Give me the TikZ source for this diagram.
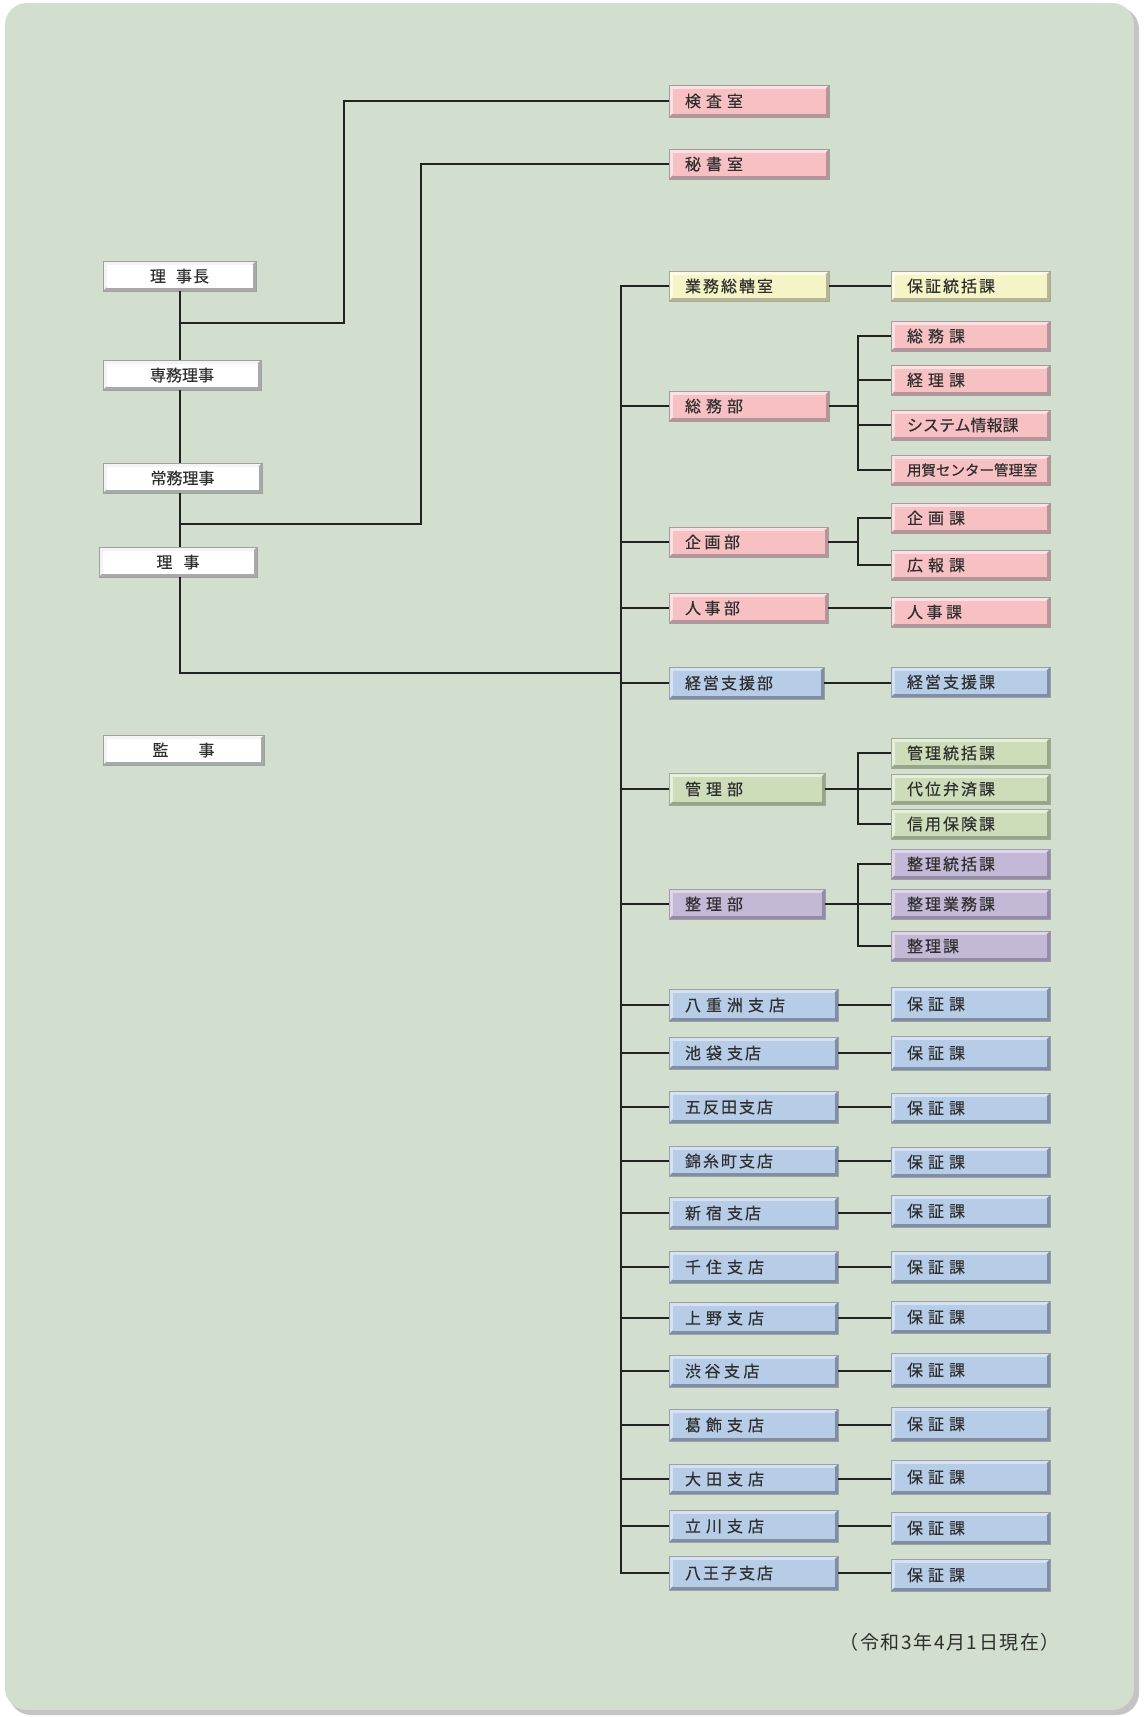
\documentclass[tikz,border=0pt]{standalone}
\usepackage{fontspec}
\newfontfamily\jp[FakeBold=0.3]{Noto Sans CJK JP}
\newfontfamily\jpn{Noto Sans CJK JP}
\usetikzlibrary{calc}
\definecolor{bg}{HTML}{D3DFCE}
\definecolor{shd}{HTML}{C4C4C4}
\definecolor{ln}{HTML}{222222}
\definecolor{txt}{HTML}{2E2E2E}
\definecolor{pkF}{HTML}{F7C1C4}\definecolor{pkL}{HTML}{FCE0E2}\definecolor{pkD}{HTML}{B3959A}\definecolor{pkB}{HTML}{A49C9E}
\definecolor{blF}{HTML}{B7CCE6}\definecolor{blL}{HTML}{D6E2F1}\definecolor{blD}{HTML}{808EA3}\definecolor{blB}{HTML}{98A0AC}
\definecolor{grF}{HTML}{CDDCB9}\definecolor{grL}{HTML}{E6EEDC}\definecolor{grD}{HTML}{97A689}\definecolor{grB}{HTML}{A0A898}
\definecolor{ylF}{HTML}{F4F4C6}\definecolor{ylL}{HTML}{FBFBE6}\definecolor{ylD}{HTML}{B5B596}\definecolor{ylB}{HTML}{A8A898}
\definecolor{puF}{HTML}{C3B8D5}\definecolor{puL}{HTML}{DDD6E8}\definecolor{puD}{HTML}{948BA6}\definecolor{puB}{HTML}{A09AAA}
\definecolor{whF}{HTML}{FFFFFF}\definecolor{whL}{HTML}{F4F4F4}\definecolor{whD}{HTML}{A9A9A9}\definecolor{whB}{HTML}{A0A0A0}
\newcommand\ks{\kern5pt}
\newcommand\km{\kern3.5pt}
\newcommand\kn{\kern2pt}
\tikzset{
  bev/.style n args={4}{draw=#4, line width=0.8pt, fill=#2, text=txt,
    font=\jp\fontsize{16}{16}\selectfont, inner ysep=0pt,
    path picture={
      \fill[#3] (path picture bounding box.south west) -- (path picture bounding box.south east)
        -- (path picture bounding box.north east)
        -- ([xshift=-3.5pt,yshift=-3.5pt]path picture bounding box.north east)
        -- ([xshift=-3.5pt,yshift=3.5pt]path picture bounding box.south east)
        -- ([xshift=3.5pt,yshift=3.5pt]path picture bounding box.south west) -- cycle;
      \fill[#1] ([xshift=3.5pt,yshift=3.5pt]path picture bounding box.south west)
        rectangle ([xshift=-3.5pt,yshift=-3.5pt]path picture bounding box.north east);
    }},
  pinkB/.style={bev={pkF}{pkL}{pkD}{pkB}},
  blueB/.style={bev={blF}{blL}{blD}{blB}},
  greenB/.style={bev={grF}{grL}{grD}{grB}},
  yellowB/.style={bev={ylF}{ylL}{ylD}{ylB}},
  purpleB/.style={bev={puF}{puL}{puD}{puB}},
  whiteB/.style={bev={whF}{whL}{whD}{whB}},
  conn/.style={draw=ln, line width=2.3pt, line join=miter},
  note/.style={text=txt, font=\jpn\fontsize{19}{19}\selectfont, inner sep=0pt}
}
% #1 name, #2 style, #3 x1, #4 y1, #5 x2, #6 y2, #7 text
\newcommand\boxL[7]{%
  \pgfmathsetmacro\myT{#5-#3-32}\pgfmathsetmacro\myH{#6-#4}%
  \pgfmathsetmacro\myX{(#3+#5)/2}\pgfmathsetmacro\myY{(#4+#6)/2}%
  \node[#2, minimum height=\myH pt, text width=\myT pt, inner xsep=16pt, align=left] (#1) at (\myX,\myY) {#7};}
\newcommand\boxC[7]{%
  \pgfmathsetmacro\myT{#5-#3-8}\pgfmathsetmacro\myH{#6-#4}%
  \pgfmathsetmacro\myX{(#3+#5)/2}\pgfmathsetmacro\myY{(#4+#6)/2}%
  \node[#2, minimum height=\myH pt, text width=\myT pt, inner xsep=4pt, align=center] (#1) at (\myX,\myY) {#7};}
\newcommand\nk{\kern1.6pt}
\begin{document}
\begin{tikzpicture}[x=1pt,y=-1pt]
\useasboundingbox (0,0) rectangle (1144,1717);
\fill[white] (0,0) rectangle (1144,1717);
\fill[shd, rounded corners=22pt] (9,7) rectangle (1139,1715);
\fill[bg, rounded corners=22pt] (5,3) rectangle (1134,1710);

% left column
\boxC{rijicho}{whiteB}{103}{261}{256}{291}{理\kern10pt 事\kern1pt 長}
\boxC{senmu}{whiteB}{103}{360}{261}{390}{専務理事}
\boxC{jomu}{whiteB}{103}{463}{262}{493}{常務理事}
\boxC{riji}{whiteB}{99}{547}{257}{577}{理\kern11pt 事}
\boxC{kanji}{whiteB}{103}{735}{264}{765}{監\kern30pt 事}

% top
\boxL{kensa}{pinkB}{669}{85}{829}{117}{検\ks 査\ks 室}
\boxL{hisho}{pinkB}{669}{149}{829}{179}{秘\ks 書\ks 室}

% departments
\boxL{gyomu}{yellowB}{669}{271}{829}{301}{業\kn 務\kn 総\kn 轄\kn 室}
\boxL{hoshotk}{yellowB}{891}{271}{1050}{301}{保\kn 証\kn 統\kn 括\kn 課}
\boxL{somubu}{pinkB}{669}{391}{829}{421}{総\ks 務\ks 部}
\boxL{somuka}{pinkB}{891}{321}{1050}{351}{総\ks 務\ks 課}
\boxL{keirika}{pinkB}{891}{365}{1050}{395}{経\ks 理\ks 課}
\boxL{system}{pinkB}{891}{410}{1050}{440}{システム情報課}
\boxL{yoga}{pinkB}{891}{455}{1050}{485}{\fontsize{14.5}{14.5}\selectfont 用賀センター管理室}
\boxL{kikakubu}{pinkB}{669}{527}{828}{557}{企\km 画\km 部}
\boxL{kikakuka}{pinkB}{891}{503}{1050}{533}{企\ks 画\ks 課}
\boxL{kohoka}{pinkB}{891}{550}{1050}{580}{広\ks 報\ks 課}
\boxL{jinjibu}{pinkB}{669}{593}{828}{623}{人\km 事\km 部}
\boxL{jinjika}{pinkB}{891}{597}{1050}{627}{人\km 事\km 課}
\boxL{keieibu}{blueB}{669}{667}{824}{699}{経\kn 営\kn 支\kn 援\kn 部}
\boxL{keieika}{blueB}{891}{667}{1050}{697}{経\kn 営\kn 支\kn 援\kn 課}
\boxL{kanribu}{greenB}{669}{773}{825}{805}{管\ks 理\ks 部}
\boxL{kanritk}{greenB}{891}{738}{1050}{768}{管\kn 理\kn 統\kn 括\kn 課}
\boxL{daii}{greenB}{891}{774}{1050}{804}{代\kn 位\kn 弁\kn 済\kn 課}
\boxL{shinyo}{greenB}{891}{809}{1050}{839}{信\kn 用\kn 保\kn 険\kn 課}
\boxL{seiribu}{purpleB}{669}{889}{825}{919}{整\ks 理\ks 部}
\boxL{seiritk}{purpleB}{891}{849}{1050}{879}{整\kn 理\kn 統\kn 括\kn 課}
\boxL{seirigy}{purpleB}{891}{889}{1050}{919}{整\kn 理\kn 業\kn 務\kn 課}
\boxL{seirika}{purpleB}{891}{931}{1050}{961}{整\kn 理\kn 課}

% branches
\boxL{yaesu}{blueB}{669}{989}{838}{1021}{八\ks 重\ks 洲\ks 支\ks 店}
\boxL{yaesuK}{blueB}{891}{987}{1050}{1021}{保\ks 証\ks 課}
\boxL{ikebu}{blueB}{669}{1037}{838}{1069}{池\ks 袋\ks 支\kn 店}
\boxL{ikebuK}{blueB}{891}{1036}{1050}{1070}{保\ks 証\ks 課}
\boxL{gotan}{blueB}{669}{1091}{838}{1123}{五\kn 反\kn 田\kn 支\kn 店}
\boxL{gotanK}{blueB}{891}{1093}{1050}{1123}{保\ks 証\ks 課}
\boxL{kinshi}{blueB}{669}{1146}{838}{1176}{錦\kn 糸\kn 町\kn 支\kn 店}
\boxL{kinshiK}{blueB}{891}{1147}{1050}{1177}{保\ks 証\ks 課}
\boxL{shinju}{blueB}{669}{1197}{838}{1229}{新\ks 宿\ks 支\kn 店}
\boxL{shinjuK}{blueB}{891}{1195}{1050}{1227}{保\ks 証\ks 課}
\boxL{senju}{blueB}{669}{1251}{838}{1283}{千\ks 住\ks 支\ks 店}
\boxL{senjuK}{blueB}{891}{1251}{1050}{1283}{保\ks 証\ks 課}
\boxL{ueno}{blueB}{669}{1302}{838}{1334}{上\ks 野\ks 支\ks 店}
\boxL{uenoK}{blueB}{891}{1301}{1050}{1333}{保\ks 証\ks 課}
\boxL{shibu}{blueB}{669}{1355}{838}{1387}{渋\km 谷\km 支\km 店}
\boxL{shibuK}{blueB}{891}{1353}{1050}{1387}{保\ks 証\ks 課}
\boxL{katsu}{blueB}{669}{1409}{838}{1441}{葛\ks 飾\ks 支\ks 店}
\boxL{katsuK}{blueB}{891}{1407}{1050}{1441}{保\ks 証\ks 課}
\boxL{ota}{blueB}{669}{1464}{838}{1494}{大\ks 田\ks 支\ks 店}
\boxL{otaK}{blueB}{891}{1460}{1050}{1494}{保\ks 証\ks 課}
\boxL{tachi}{blueB}{669}{1510}{838}{1542}{立\ks 川\ks 支\ks 店}
\boxL{tachiK}{blueB}{891}{1512}{1050}{1544}{保\ks 証\ks 課}
\boxL{hachi}{blueB}{669}{1556}{838}{1590}{八\kn 王\kn 子\kn 支\kn 店}
\boxL{hachiK}{blueB}{891}{1559}{1050}{1591}{保\ks 証\ks 課}

\node[note] (date) at (949.7,1642.7) {（\nk 令\nk 和\nk 3\nk 年\nk 4\nk 月\nk 1\nk 日\nk 現\nk 在\nk ）};

% coordinates for connector routing
\coordinate (vx) at (180,0);
\coordinate (tr) at (621,0);
\coordinate (bx) at (858,0);
\coordinate (k1) at (180,323);
\coordinate (kx) at (344,323);
\coordinate (h1) at (180,524);
\coordinate (hx) at (421,524);
\coordinate (rj) at (621,673);

% executive line
\draw[conn] (rijicho.south -| vx) -- (senmu.north -| vx);
\draw[conn] (senmu.south -| vx) -- (jomu.north -| vx);
\draw[conn] (jomu.south -| vx) -- (riji.north -| vx);
\draw[conn] (riji.south -| vx) |- (rj);
\draw[conn] (k1) -- (kx) |- (kensa.west);
\draw[conn] (h1) -- (hx) |- (hisho.west);

% trunk
\draw[conn] (gyomu.west) -- (gyomu.west -| tr) -- (hachi.west -| tr) -- (hachi.west);
\foreach \n in {somubu,kikakubu,jinjibu,keieibu,kanribu,seiribu,yaesu,ikebu,gotan,kinshi,shinju,senju,ueno,shibu,katsu,ota,tachi}
  \draw[conn] (\n.west -| tr) -- (\n.west);

% one-to-one
\foreach \a/\b in {gyomu/hoshotk,jinjibu/jinjika,keieibu/keieika,yaesu/yaesuK,ikebu/ikebuK,gotan/gotanK,kinshi/kinshiK,shinju/shinjuK,senju/senjuK,ueno/uenoK,shibu/shibuK,katsu/katsuK,ota/otaK,tachi/tachiK,hachi/hachiK}
  \draw[conn] (\a.east) -- (\a.east -| \b.west);

% branches
\draw[conn] (somubu.east) -- (somubu.east -| bx);
\draw[conn] (somuka.west) -| (bx |- yoga.west) -- (yoga.west);
\draw[conn] (keirika.west -| bx) -- (keirika.west);
\draw[conn] (system.west -| bx) -- (system.west);

\draw[conn] (kikakubu.east) -- (kikakubu.east -| bx);
\draw[conn] (kikakuka.west) -| (bx |- kohoka.west) -- (kohoka.west);

\draw[conn] (kanribu.east) -- (kanribu.east -| bx);
\draw[conn] (kanritk.west) -| (bx |- shinyo.west) -- (shinyo.west);
\draw[conn] (daii.west -| bx) -- (daii.west);

\draw[conn] (seiribu.east) -- (seiribu.east -| bx);
\draw[conn] (seiritk.west) -| (bx |- seirika.west) -- (seirika.west);
\draw[conn] (seirigy.west -| bx) -- (seirigy.west);
\end{tikzpicture}
\end{document}
